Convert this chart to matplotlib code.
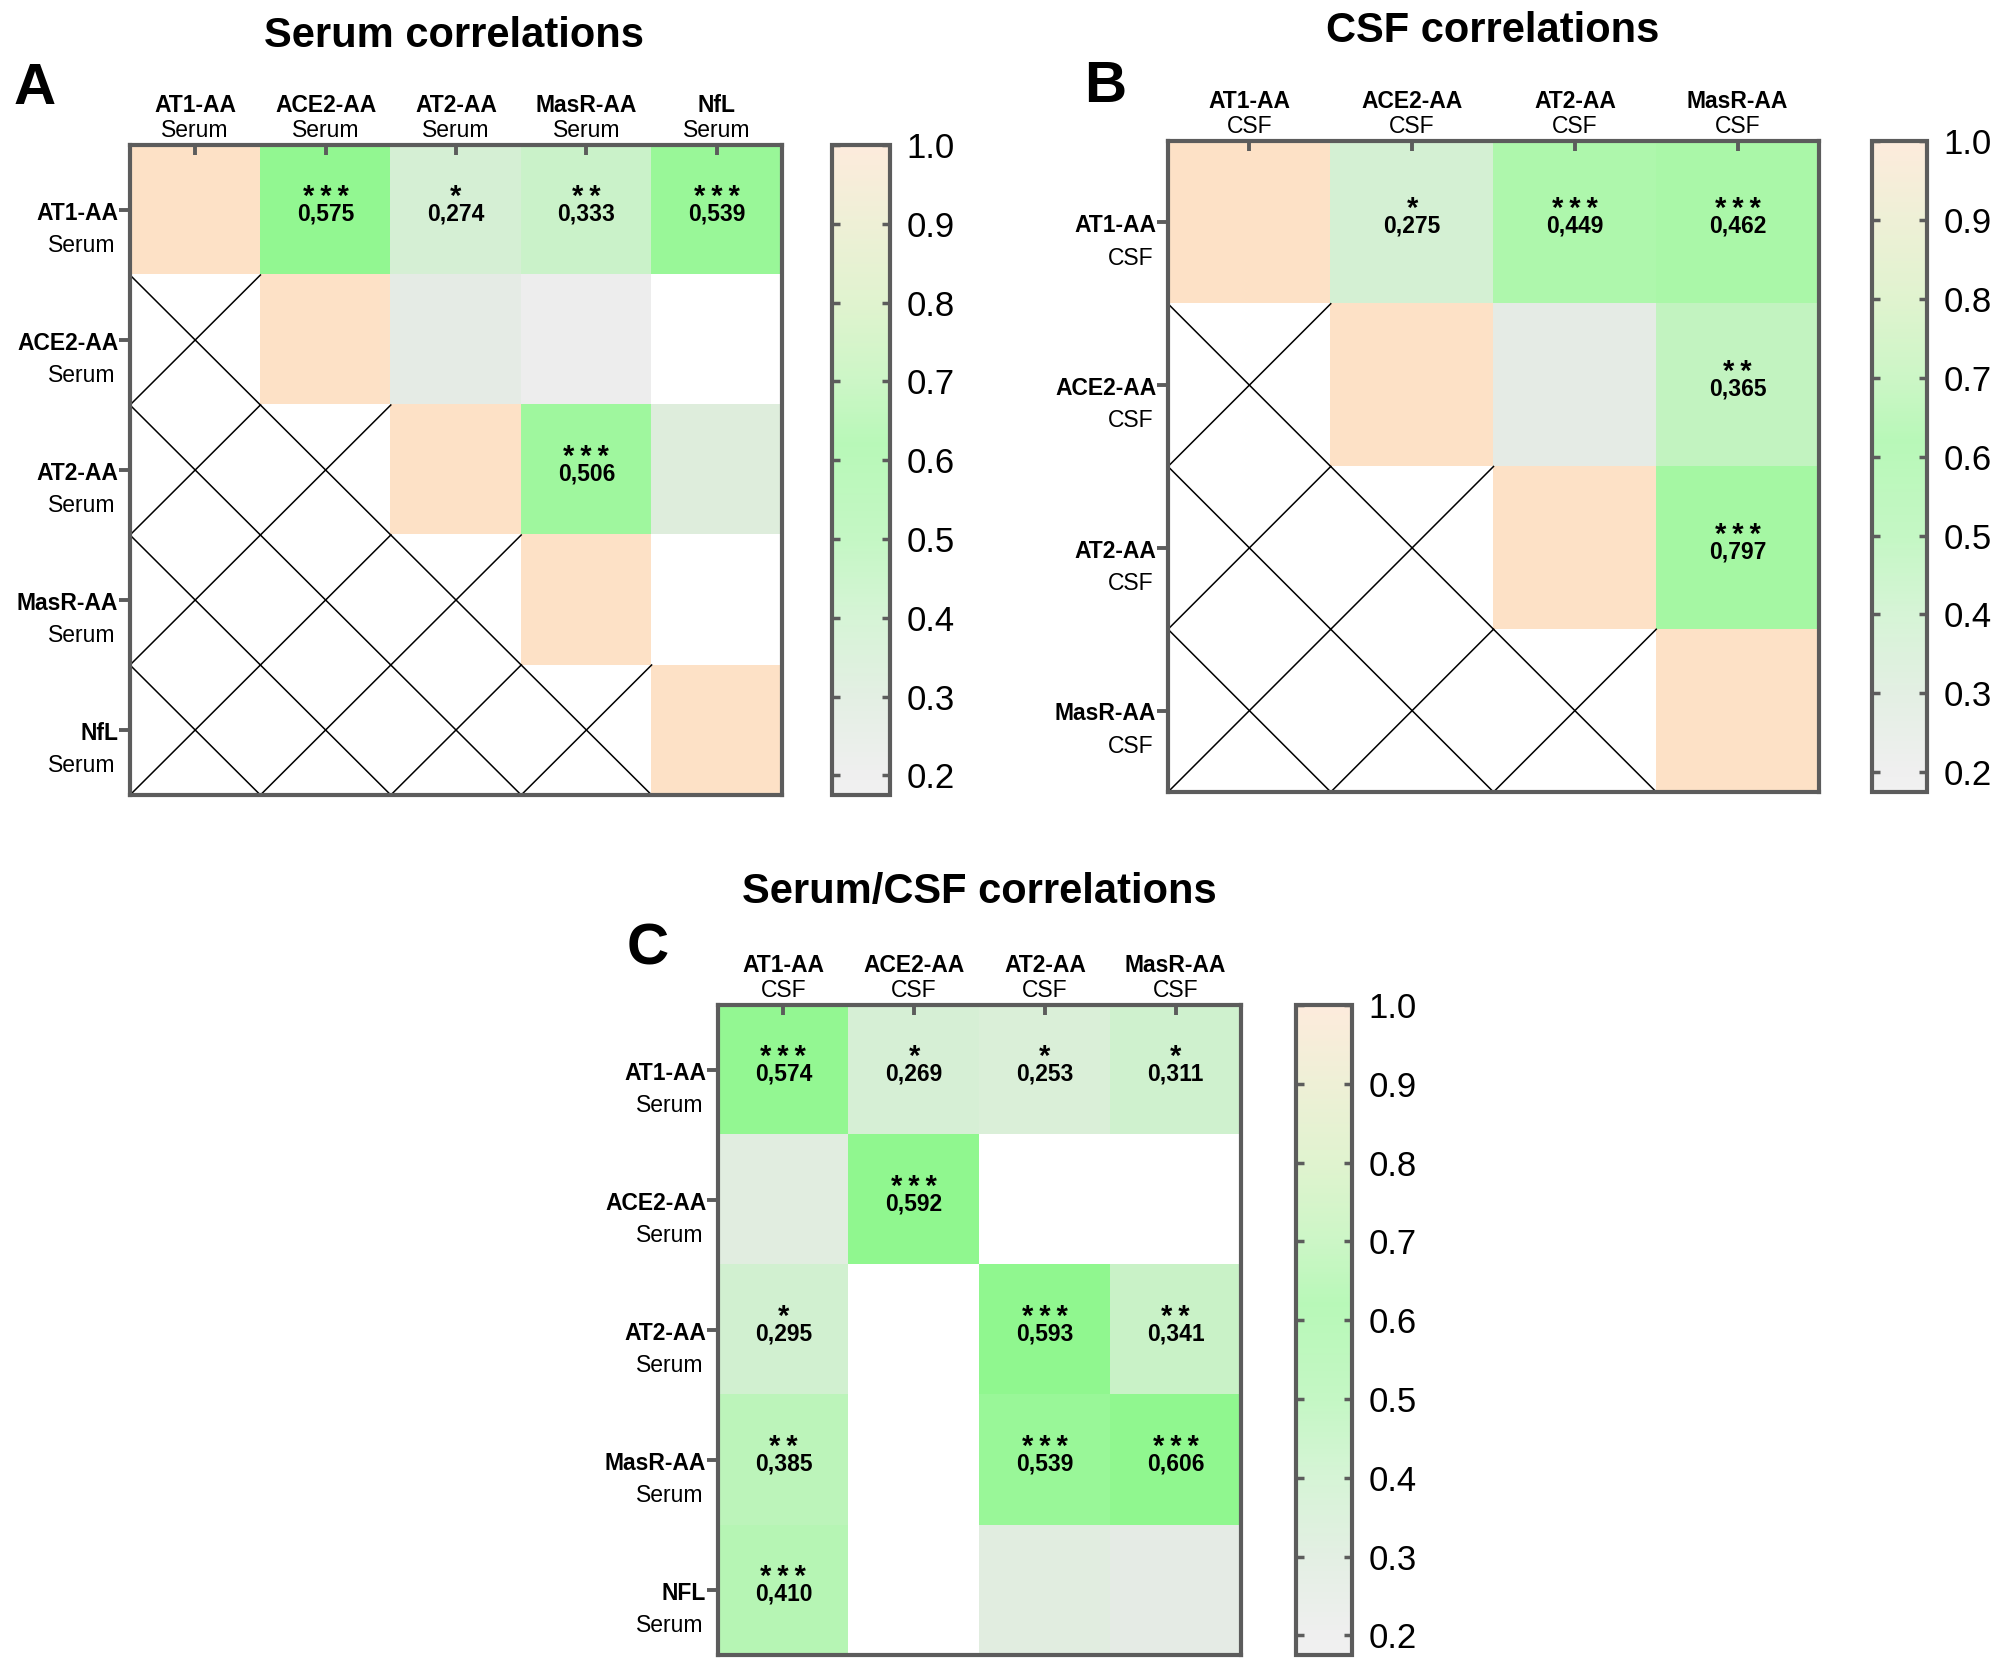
import numpy as np
import matplotlib
matplotlib.use("Agg")
import matplotlib.pyplot as plt
from matplotlib.colors import LinearSegmentedColormap, Normalize
import matplotlib.cm as cm

plt.rcParams['font.family'] = ['Liberation Sans', 'DejaVu Sans']

nan = np.nan

# ---- panel A: serum x serum ----
serum_rows = ["AT1-AA", "ACE2-AA", "AT2-AA", "MasR-AA", "NfL"]
serum_r = [
    [1.0, 0.575, 0.274, 0.333, 0.539],
    [nan, 1.0, 0.22, 0.19, nan],
    [nan, nan, 1.0, 0.506, 0.24],
    [nan, nan, nan, 1.0, nan],
    [nan, nan, nan, nan, 1.0],
]
serum_stars = [
    ["", "***", "*", "**", "***"],
    ["", "", "", "", ""],
    ["", "", "", "***", ""],
    ["", "", "", "", ""],
    ["", "", "", "", ""],
]

# ---- panel B: CSF x CSF ----
csf_rows = ["AT1-AA", "ACE2-AA", "AT2-AA", "MasR-AA"]
csf_r = [
    [1.0, 0.275, 0.449, 0.462],
    [nan, 1.0, 0.22, 0.365],
    [nan, nan, 1.0, 0.797],
    [nan, nan, nan, 1.0],
]
csf_stars = [
    ["", "*", "***", "***"],
    ["", "", "", "**"],
    ["", "", "", "***"],
    ["", "", "", ""],
]

# ---- panel C: serum (rows) x CSF (cols) ----
cross_rows = ["AT1-AA", "ACE2-AA", "AT2-AA", "MasR-AA", "NFL"]
cross_cols = ["AT1-AA", "ACE2-AA", "AT2-AA", "MasR-AA"]
cross_r = [
    [0.574, 0.269, 0.253, 0.311],
    [0.23, 0.592, nan, nan],
    [0.295, nan, 0.593, 0.341],
    [0.385, nan, 0.539, 0.606],
    [0.410, nan, 0.23, 0.22],
]
cross_stars = [
    ["***", "*", "*", "*"],
    ["", "***", "", ""],
    ["*", "", "***", "**"],
    ["**", "", "***", "***"],
    ["***", "", "", ""],
]

cbar_ticks = [0.2, 0.3, 0.4, 0.5, 0.6, 0.7, 0.8, 0.9, 1.0]

VMIN, VMAX = 0.175, 1.0
norm = Normalize(VMIN, VMAX)


def make_cmap(name, nodes):
    return LinearSegmentedColormap.from_list(
        name, [((v - VMIN) / (VMAX - VMIN), c) for v, c in nodes])


# colours the cells are painted with
cell_cmap = make_cmap("cells", [
    (0.175, "#f0f0f0"), (0.20, "#ebebeb"), (0.22, "#e4ece4"),
    (0.25, "#dbefd9"), (0.275, "#d5f0d4"), (0.33, "#ccf2cb"),
    (0.365, "#c2f4c0"), (0.40, "#b8f5b6"), (0.45, "#aef7ac"),
    (0.50, "#a0f89f"), (0.575, "#93f792"), (0.60, "#90f78f"),
    (0.80, "#a6f7a4"), (0.90, "#e9efc8"), (1.0, "#fde1c6"),
])
# the legend bar in the original is paler than the cells
bar_cmap = make_cmap("bar", [
    (0.175, "#f1f1f1"), (0.2, "#efefef"), (0.3, "#e3efe3"),
    (0.4, "#d6f4d6"), (0.5, "#c4f7c4"), (0.62, "#b8f8b8"),
    (0.7, "#ccf6c6"), (0.8, "#e0f3cf"), (0.9, "#eef0d6"),
    (1.0, "#fdebdc"),
])

frame_col = "#5c5c5c"
W, H = 2007, 1668


def px_rect(x0, y0, x1, y1):
    return [x0 / W, 1 - y1 / H, (x1 - x0) / W, (y1 - y0) / H]


def draw_panel(fig, rect, cb_rect, r, stars, rows, row_sub, cols, col_sub, crossed):
    data = np.ma.masked_invalid(np.array(r, dtype=float))
    nr, nc = data.shape
    ax = fig.add_axes(rect)
    ax.imshow(data, cmap=cell_cmap, norm=norm, aspect='auto', interpolation='nearest')
    ax.set_xlim(-0.5, nc - 0.5)
    ax.set_ylim(nr - 0.5, -0.5)
    for s in ax.spines.values():
        s.set_color(frame_col)
        s.set_linewidth(3)

    ax.xaxis.tick_top()
    ax.set_xticks(range(nc))
    ax.set_xticklabels([])
    ax.set_yticks(range(nr))
    ax.set_yticklabels([])
    ax.tick_params(axis='x', direction='in', length=7, width=2.8, color=frame_col,
                   top=True, bottom=False)
    ax.tick_params(axis='y', direction='out', length=8, width=2.8, color=frame_col)

    # crossed-out lower triangle
    if crossed:
        for i in range(nr):
            for j in range(nc):
                if i > j:
                    ax.plot([j - 0.5, j + 0.5], [i - 0.5, i + 0.5], color='black', lw=1.1)
                    ax.plot([j - 0.5, j + 0.5], [i + 0.5, i - 0.5], color='black', lw=1.1)

    # cell annotations: significance stars over the r value
    for i in range(nr):
        for j in range(nc):
            st = stars[i][j]
            if not st:
                continue
            v = data[i, j]
            ax.annotate("\u2009".join(st), xy=(j, i), xytext=(0, 3.6),
                        textcoords='offset points', ha='center', va='baseline',
                        fontsize=21, fontweight='bold')
            ax.annotate(f"{v:.3f}".replace(".", ","), xy=(j, i), xytext=(0, -7.4),
                        textcoords='offset points', ha='center', va='baseline',
                        fontsize=16.5, fontweight='bold')

    # axis labels (two lines each)
    for j, name in enumerate(cols):
        ax.annotate(name, xy=(j, 1), xycoords=('data', 'axes fraction'),
                    xytext=(0, 24), textcoords='offset points',
                    ha='center', va='baseline', fontsize=16.5, fontweight='bold')
        ax.annotate(col_sub, xy=(j, 1), xycoords=('data', 'axes fraction'),
                    xytext=(0, 5.5), textcoords='offset points',
                    ha='center', va='baseline', fontsize=16.5)
    for i, name in enumerate(rows):
        ax.annotate(name, xy=(0, i), xycoords=('axes fraction', 'data'),
                    xytext=(-8.5, -7.0), textcoords='offset points',
                    ha='right', va='baseline', fontsize=16.5, fontweight='bold')
        ax.annotate(row_sub, xy=(0, i), xycoords=('axes fraction', 'data'),
                    xytext=(-10.5, -30.5), textcoords='offset points',
                    ha='right', va='baseline', fontsize=16.5)

    # colour bar
    cax = fig.add_axes(cb_rect)
    cb = fig.colorbar(cm.ScalarMappable(norm=norm, cmap=bar_cmap), cax=cax)
    cb.outline.set_edgecolor(frame_col)
    cb.outline.set_linewidth(3)
    cb.set_ticks(cbar_ticks)
    cb.set_ticklabels([f"{t:.1f}" for t in cbar_ticks])
    cax.tick_params(direction='in', left=True, right=True, length=6, width=2.5,
                    color=frame_col, labelsize=25, pad=12)
    return ax


fig = plt.figure(figsize=(W / 100, H / 100), dpi=100)

draw_panel(fig, px_rect(130, 145, 782, 795), px_rect(832, 145, 890, 795),
           serum_r, serum_stars, serum_rows, "Serum", serum_rows, "Serum", True)
draw_panel(fig, px_rect(1168, 141, 1819, 792), px_rect(1872, 141, 1927, 792),
           csf_r, csf_stars, csf_rows, "CSF", csf_rows, "CSF", True)
draw_panel(fig, px_rect(718, 1005, 1241, 1655), px_rect(1296, 1005, 1352, 1655),
           cross_r, cross_stars, cross_rows, "Serum", cross_cols, "CSF", False)

fig.text(454 / W, 1 - 47 / H, "Serum correlations", ha='center', va='baseline',
         fontsize=30, fontweight='bold')
fig.text(1493 / W, 1 - 42 / H, "CSF correlations", ha='center', va='baseline',
         fontsize=30, fontweight='bold')
fig.text(979 / W, 1 - 903 / H, "Serum/CSF correlations", ha='center', va='baseline',
         fontsize=30, fontweight='bold')

fig.text(35 / W, 1 - 104 / H, "A", ha='center', va='baseline', fontsize=42, fontweight='bold')
fig.text(1105 / W, 1 - 102 / H, "B", ha='center', va='baseline', fontsize=42, fontweight='bold')
fig.text(648 / W, 1 - 965 / H, "C", ha='center', va='baseline', fontsize=42, fontweight='bold')

fig.savefig("out.png", dpi=100)
